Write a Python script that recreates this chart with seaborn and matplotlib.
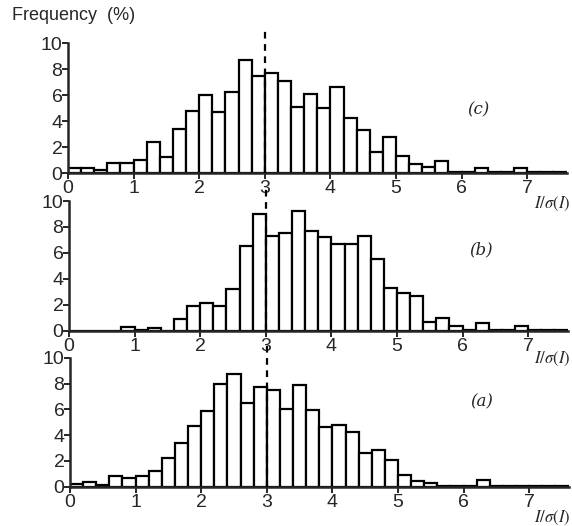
import numpy as np
import pandas as pd
import matplotlib
matplotlib.use('Agg')
import matplotlib.pyplot as plt
import seaborn as sns

# bin edges 0.0 .. 7.6 in steps of 0.2
bin_edges = [round(0.2 * i, 1) for i in range(39)]
bin_centers = [e + 0.1 for e in bin_edges[:-1]]

freq_c = [0.4, 0.4, 0.2, 0.8, 0.8, 1.0, 2.4, 1.2, 3.4, 4.8,
          6.0, 4.7, 6.2, 8.7, 7.5, 7.7, 7.1, 5.1, 6.1, 5.0,
          6.6, 4.2, 3.3, 1.65, 2.75, 1.3, 0.7, 0.5, 0.9, 0.05,
          0.05, 0.35, 0.05, 0.05, 0.4, 0.05, 0.05, 0.05]

freq_b = [0.0, 0.0, 0.0, 0.0, 0.25, 0.05, 0.2, 0.0, 0.9, 1.9,
          2.1, 1.9, 3.2, 6.5, 9.0, 7.3, 7.5, 9.2, 7.7, 7.2,
          6.7, 6.7, 7.3, 5.5, 3.3, 2.9, 2.7, 0.7, 0.95, 0.35,
          0.05, 0.6, 0.05, 0.05, 0.4, 0.05, 0.05, 0.05]

freq_a = [0.2, 0.4, 0.15, 0.8, 0.65, 0.8, 1.25, 2.25, 3.4, 4.7,
          5.9, 8.0, 8.7, 6.5, 7.7, 7.5, 6.0, 7.9, 5.95, 4.6,
          4.75, 4.25, 2.65, 2.85, 2.1, 0.9, 0.45, 0.25, 0.05, 0.05,
          0.05, 0.5, 0.05, 0.05, 0.05, 0.05, 0.05, 0.05]

panels = [('(c)', freq_c, (6.26, 4.85)),
          ('(b)', freq_b, (6.28, 6.2)),
          ('(a)', freq_a, (6.28, 6.6))]

sns.set_style('ticks')
plt.rcParams['font.family'] = ['Liberation Sans', 'DejaVu Sans']
plt.rcParams['mathtext.fontset'] = 'stix'

W, H = 572, 526
fig = plt.figure(figsize=(W / 100, H / 100), dpi=100)

# axes boxes in pixels: left, bottom(y of zero line), top(y of 10)
boxes = [(68, 173, 43), (69, 330.7, 201), (70, 486.7, 357.7)]
px_per_unit = 65.6
xmax = 7.6
xlabel_y = [204, 359, 518]

for (label, freq, lab_pos), (left, bot, top), ly in zip(panels, boxes, xlabel_y):
    ax = fig.add_axes([left / W, 1 - bot / H, px_per_unit * xmax / W, (bot - top) / H])
    df = pd.DataFrame({'center': bin_centers, 'freq': freq})
    sns.histplot(data=df, x='center', weights='freq', bins=bin_edges, ax=ax,
                 color='white', edgecolor='black', linewidth=1.6, alpha=1)
    ax.plot([3, 3], [0, 10.9], color='black', linestyle=(0, (3, 2.5)),
            linewidth=1.6, clip_on=False, zorder=5)
    ax.set_xlim(0, xmax)
    ax.set_ylim(0, 10)
    ax.set_xticks(range(0, 8))
    ax.set_yticks(range(0, 11, 2))
    ax.set_xlabel('')
    ax.set_ylabel('')
    sns.despine(ax=ax)
    for s in ['left', 'bottom']:
        ax.spines[s].set_linewidth(1.8)
    ax.tick_params(direction='out', length=4, width=1.4, labelsize=14, pad=1)
    ax.tick_params(axis='y', pad=0)
    ax.text(lab_pos[0], lab_pos[1], label, fontsize=12, family='serif',
            style='italic', ha='center', va='center')
    fig.text(1 - 2 / W, 1 - ly / H, r'$I/\sigma(I)$', fontsize=12,
             ha='right', va='center')

fig.text(12 / W, 1 - 16 / H, 'Frequency  (%)', fontsize=13, ha='left', va='center')

fig.savefig('out.png', dpi=100)
